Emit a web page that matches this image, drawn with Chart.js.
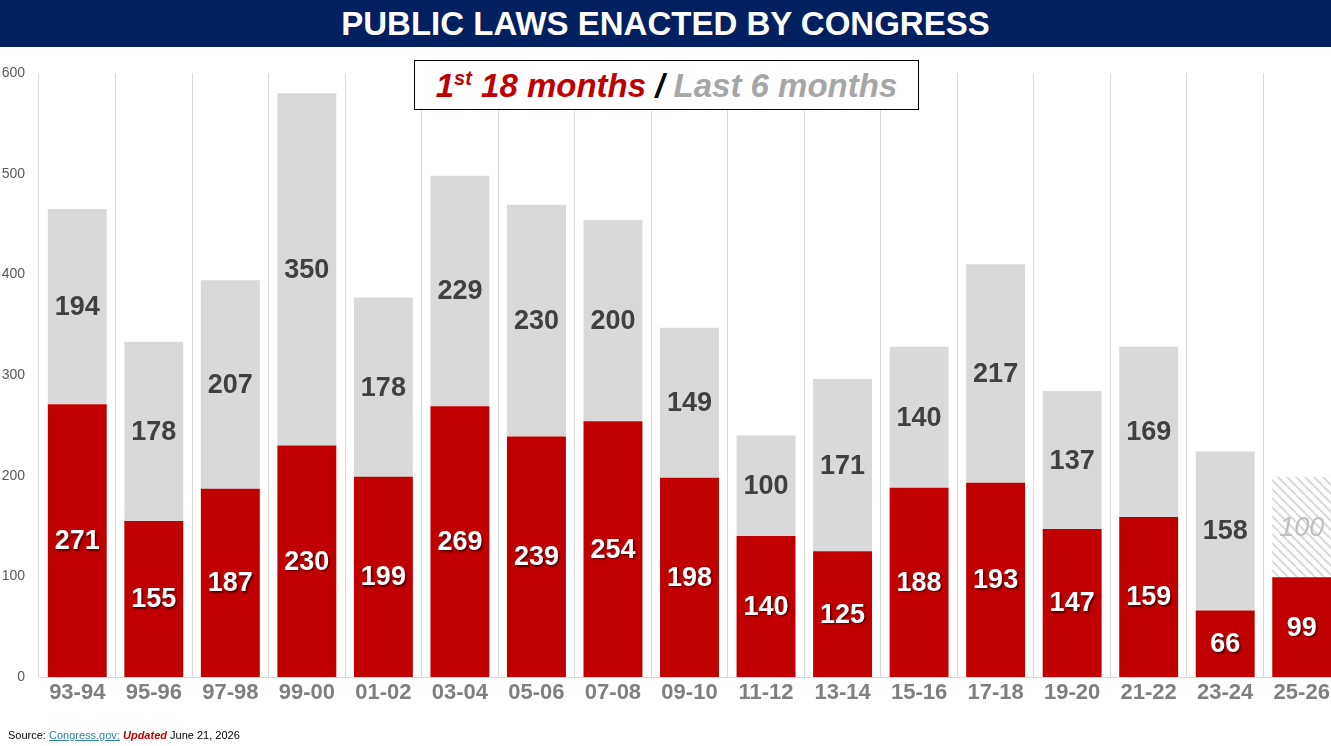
<!DOCTYPE html>
<html>
<head>
<meta charset="utf-8">
<script src="https://cdn.jsdelivr.net/npm/chart.js@4.4.1/dist/chart.umd.min.js"></script>
<style>
    html, body { margin: 0; padding: 0; width: 1331px; height: 746px; overflow: hidden; background: #fff; font-family: "Liberation Sans", Arial, sans-serif; }
    #titulo { position: absolute; left: 0; top: 0; width: 1331px; height: 47px; background: #002060; color: #fff; font-weight: bold; font-size: 33px; line-height: 47px; text-align: center; }
    #wrap { position: absolute; left: 0; top: 0; width: 1340px; height: 746px; }
    #leyenda { position: absolute; left: 414px; top: 60px; width: 503px; height: 48px; border: 1px solid #000; background: #fff; text-align: center; font-weight: bold; font-style: italic; font-size: 33px; line-height: 50px; z-index: 2; }
    #leyenda .rojo { color: #c00000; }
    #leyenda .gris { color: #a6a6a6; }
    #leyenda sup { font-size: 20px; vertical-align: 12px; line-height: 0; }
    #fuente { position: absolute; left: 8px; top: 729px; font-size: 11px; color: #000; }
    #fuente .link { color: #31859c; text-decoration: underline; }
    #fuente .upd { color: #c00000; font-weight: bold; font-style: italic; }
</style>
</head>
<body>
<div id="wrap"><canvas id="chartLeyes"></canvas></div>
<div id="titulo">PUBLIC LAWS ENACTED BY CONGRESS</div>
<div id="leyenda"><span class="rojo">1<sup>st</sup> 18 months</span> / <span class="gris">Last 6 months</span></div>
<div id="fuente">Source: <span class="link">Congress.gov;</span> <span class="upd">Updated</span> June 21, 2026</div>
<script>
// Datos
const congresos = ['93-94', '95-96', '97-98', '99-00', '01-02', '03-04', '05-06', '07-08', '09-10',
    '11-12', '13-14', '15-16', '17-18', '19-20', '21-22', '23-24', '25-26'];
const primeros18 = [271, 155, 187, 230, 199, 269, 239, 254, 198, 140, 125, 188, 193, 147, 159, 66, 99];
const ultimos6 = [194, 178, 207, 350, 178, 229, 230, 200, 149, 100, 171, 140, 217, 137, 169, 158, 100];
const ticksY = [0, 100, 200, 300, 400, 500, 600];
const proyectado = 16; // indice del congreso en curso (estimado)

const FUENTE = '"Liberation Sans", Arial, sans-serif';

function crearRayado() {
    const c = document.createElement('canvas');
    c.width = 9; c.height = 9;
    const g = c.getContext('2d');
    g.fillStyle = '#ffffff';
    g.fillRect(0, 0, 9, 9);
    g.strokeStyle = '#d9d9d9';
    g.lineWidth = 2;
    g.beginPath();
    for (let k = -9; k <= 18; k += 9) {
        g.moveTo(k, 0);
        g.lineTo(k + 9, 9);
    }
    g.stroke();
    return g.createPattern(c, 'repeat');
}

const rayado = crearRayado();
const colorGris = ultimos6.map((v, i) => i === proyectado ? rayado : '#d9d9d9');

// Etiquetas de valor dentro de las barras
const etiquetasBarras = {
    id: 'etiquetasBarras',
    afterDatasetsDraw(chart) {
        const ctx = chart.ctx;
        ctx.save();
        ctx.textAlign = 'center';
        ctx.textBaseline = 'middle';
        chart.data.datasets.forEach((ds, di) => {
            const meta = chart.getDatasetMeta(di);
            meta.data.forEach((bar, i) => {
                const p = bar.getProps(['x', 'y', 'base'], true);
                const cy = (p.y + p.base) / 2 + 1;
                const txt = String(ds.data[i]);
                if (di === 0) {
                    ctx.font = 'bold 27px ' + FUENTE;
                    ctx.shadowColor = 'rgba(0,0,0,0.55)';
                    ctx.shadowOffsetX = 1.5;
                    ctx.shadowOffsetY = 1.5;
                    ctx.shadowBlur = 2;
                    ctx.fillStyle = '#ffffff';
                } else if (i === proyectado) {
                    ctx.font = 'italic 27px ' + FUENTE;
                    ctx.shadowColor = 'transparent';
                    ctx.fillStyle = '#bfbfbf';
                } else {
                    ctx.font = 'bold 27px ' + FUENTE;
                    ctx.shadowColor = 'transparent';
                    ctx.fillStyle = '#404040';
                }
                ctx.fillText(txt, p.x, cy);
            });
        });
        ctx.restore();
    }
};

const ctx = document.getElementById('chartLeyes').getContext('2d');
new Chart(ctx, {
    type: 'bar',
    data: {
        labels: congresos,
        datasets: [{
            label: '1st 18 months',
            data: primeros18,
            backgroundColor: '#c00000',
            categoryPercentage: 1,
            barPercentage: 0.77
        }, {
            label: 'Last 6 months',
            data: ultimos6,
            backgroundColor: colorGris,
            categoryPercentage: 1,
            barPercentage: 0.77
        }]
    },
    options: {
        responsive: true,
        maintainAspectRatio: false,
        animation: false,
        layout: { padding: { top: 73, left: 0, right: 0, bottom: 0 } },
        plugins: {
            legend: { display: false },
            tooltip: { enabled: false }
        },
        scales: {
            x: {
                stacked: true,
                grid: { display: true, offset: true, color: '#d9d9d9', drawTicks: false },
                border: { display: true, color: '#d9d9d9' },
                ticks: { color: '#7f7f7f', font: { family: FUENTE, size: 22, weight: 'bold' }, padding: 3 },
                afterFit(scale) { scale.height = 69; }
            },
            y: {
                stacked: true,
                min: 0,
                max: 600,
                afterBuildTicks(scale) { scale.ticks = ticksY.map(v => ({ value: v })); },
                grid: { display: false, drawTicks: false },
                border: { display: false },
                ticks: { color: '#595959', font: { family: FUENTE, size: 14 }, padding: 14 },
                afterFit(scale) { scale.width = 39; }
            }
        }
    },
    plugins: [etiquetasBarras]
});
</script>
</body>
</html>
